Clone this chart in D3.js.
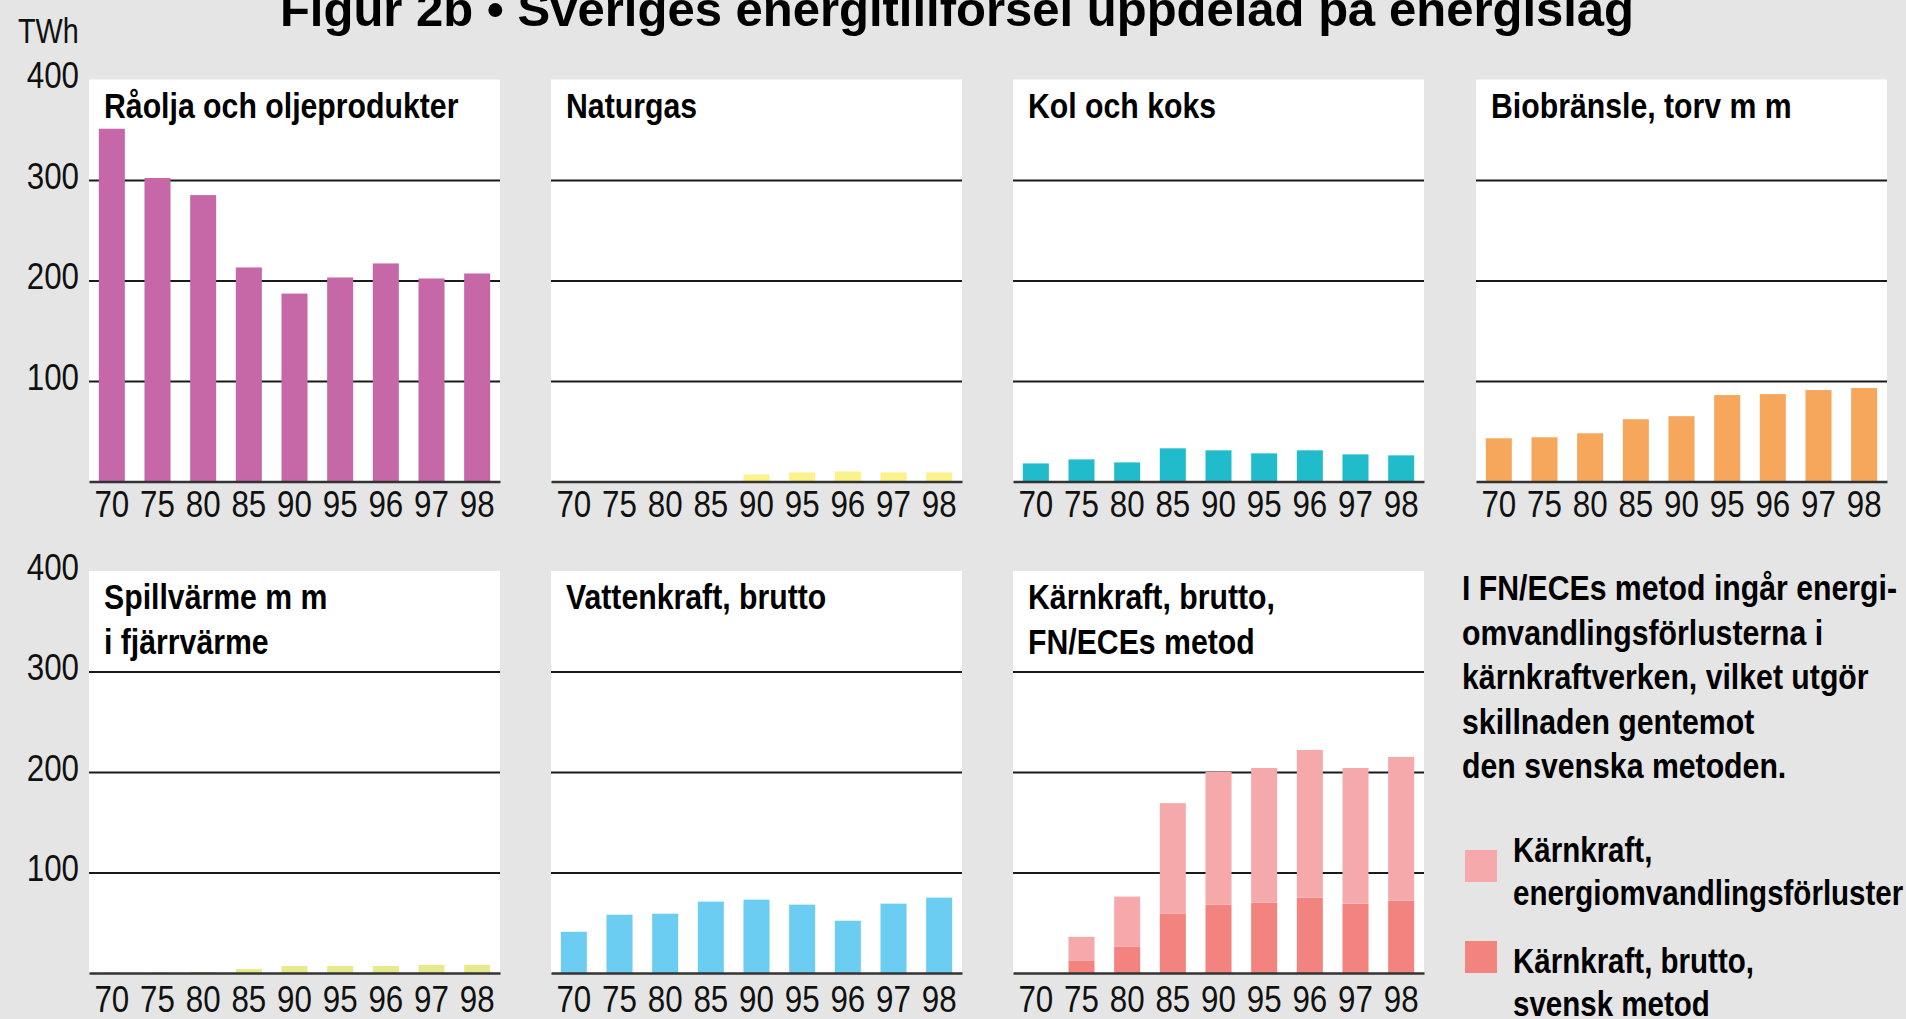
<!DOCTYPE html>
<html>
<head>
<meta charset="utf-8">
<script src="https://cdn.jsdelivr.net/npm/d3@7"></script>
<style>
  body { margin: 0; background: #e5e5e5; }
  svg { display: block; }
  text { font-family: "Liberation Sans", Arial, sans-serif; }
</style>
</head>
<body>
<div id="chart"></div>
<script>
// data, TWh per year
var years = ["70", "75", "80", "85", "90", "95", "96", "97", "98"];
var yTicks = [100, 200, 300, 400];
var gridTicks = [100, 200, 300];

var raolja     = [351, 302, 285, 213, 187, 203, 217, 202, 207];
var naturgas   = [0, 0, 0, 0.6, 7, 9, 10, 9, 9];
var kol        = [18, 22, 19, 33, 31, 28, 31, 27, 26];
var bio        = [43, 44, 48, 62, 65, 86, 87, 91, 93];
var spill      = [0.3, 0.3, 1, 4, 7, 7, 7, 8, 8];
var vatten     = [41, 58, 59, 71, 73, 68, 52, 69, 75];
var karnSvensk = [0, 12, 26, 59, 68, 70, 75, 69, 72];
var karnForlust = [0, 24, 50, 110, 132, 134, 147, 135, 143];

var legendNote = ["I FN/ECEs metod ingår energi-", "omvandlingsförlusterna i",
  "kärnkraftverken, vilket utgör", "skillnaden gentemot", "den svenska metoden."];

var W = 1906, H = 1019;
var colLeft = [89, 551, 1013, 1476], panelW = 411;
var rowBase = [481.5, 973];
var narrowReg = 0.87, narrowBold = 0.84;   // fake a condensed face

var svg = d3.select("#chart")
  .append("svg")
    .attr("width", W)
    .attr("height", H);

svg.append("rect").attr("width", W).attr("height", H).attr("fill", "#e5e5e5");

// text squeezed horizontally around its anchor point
function label(parent, x, y, str, size, bold, sx) {
  return parent.append("text")
    .attr("transform", "translate(" + x + "," + y + ") scale(" + sx + ",1)")
    .style("font-size", size + "px")
    .style("font-weight", bold ? "bold" : "normal")
    .attr("fill", "#000")
    .text(str);
}

// title (cut at the top like the original)
svg.append("text")
  .attr("x", 957)
  .attr("y", 26)
  .attr("text-anchor", "middle")
  .style("font-weight", "bold")
  .style("font-size", "49px")
  .text("Figur 2b • Sveriges energitillförsel uppdelad på energislag");

label(svg, 18, 43, "TWh", 36, false, 0.8).attr("fill", "#111");

var panels = [
  {title: ["Råolja och oljeprodukter"], col: 0, row: 0, series: [raolja], colors: ["#c668a8"]},
  {title: ["Naturgas"], col: 1, row: 0, series: [naturgas], colors: ["#fcf28a"]},
  {title: ["Kol och koks"], col: 2, row: 0, series: [kol], colors: ["#21bccb"]},
  {title: ["Biobränsle, torv m m"], col: 3, row: 0, series: [bio], colors: ["#f7a75c"]},
  {title: ["Spillvärme m m", "i fjärrvärme"], col: 0, row: 1, series: [spill], colors: ["#e6ea8a"]},
  {title: ["Vattenkraft, brutto"], col: 1, row: 1, series: [vatten], colors: ["#6ccdf3"]},
  {title: ["Kärnkraft, brutto,", "FN/ECEs metod"], col: 2, row: 1, series: [karnSvensk, karnForlust], colors: ["#f2837f", "#f6a9ab"]}
];

// y labels, one set per row
rowBase.forEach(function(base) {
  var y = d3.scaleLinear().domain([0, 400]).range([base, base - 402]);
  var ax = svg.append("g")
    .attr("transform", "translate(79,0)")
    .call(d3.axisLeft(y).tickValues(yTicks).tickSize(0).tickPadding(0));
  ax.attr("font-family", null).attr("font-size", null);
  ax.select(".domain").remove();
  ax.selectAll("text")
    .attr("dy", null)
    .attr("y", 8)
    .attr("transform", "scale(" + narrowReg + ",1)")
    .style("font-size", "36px")
    .attr("fill", "#111");
});

panels.forEach(function(p) {
  var left = colLeft[p.col];
  var base = rowBase[p.row];
  var y = d3.scaleLinear().domain([0, 400]).range([base, base - 402]);
  var x = d3.scaleBand()
    .domain(years)
    .range([left, left + panelW])
    .paddingInner(0.43)
    .paddingOuter(0.215);

  var g = svg.append("g");

  g.append("rect")
    .attr("x", left)
    .attr("y", y(400))
    .attr("width", panelW)
    .attr("height", y(0) - y(400))
    .attr("fill", "#ffffff");

  // gridlines
  var grid = g.append("g")
    .attr("transform", "translate(" + left + ",0)")
    .call(d3.axisLeft(y).tickValues(gridTicks).tickSize(-panelW).tickFormat(""));
  grid.select(".domain").remove();
  grid.selectAll("line").attr("stroke", "#1a1a1a").attr("stroke-width", 2);

  // stacked bars
  var rows = years.map(function(yr, i) {
    var o = {year: yr};
    p.series.forEach(function(s, k) { o["s" + k] = s[i]; });
    return o;
  });
  var stack = d3.stack().keys(p.series.map(function(s, k) { return "s" + k; }))(rows);

  stack.forEach(function(layer, k) {
    g.append("g")
      .attr("fill", p.colors[k])
      .selectAll("rect")
      .data(layer)
      .enter()
      .append("rect")
        .attr("x", function(d) { return x(d.data.year); })
        .attr("y", function(d) { return y(d[1]); })
        .attr("width", x.bandwidth())
        .attr("height", function(d) { return y(d[0]) - y(d[1]); });
  });

  // x axis / baseline
  var xa = g.append("g")
    .attr("transform", "translate(0," + base + ")")
    .call(d3.axisBottom(x).tickSize(0).tickPadding(p.row === 0 ? 10 : 13).tickSizeOuter(0));
  xa.attr("font-family", null).attr("font-size", null);
  xa.select(".domain").attr("stroke", "#333").attr("stroke-width", 2.5);
  xa.selectAll("text")
    .attr("transform", "scale(" + narrowReg + ",1)")
    .style("font-size", "36px")
    .attr("fill", "#111");

  // panel title
  p.title.forEach(function(line, i) {
    label(g, left + 15, y(400) + 38 + i * 45, line, 36, true, narrowBold);
  });
});

// note and legend
legendNote.forEach(function(line, i) {
  label(svg, 1462, 600 + i * 44.5, line, 36, true, narrowBold);
});

var legendItems = [
  {color: "#f6a9ab", lines: ["Kärnkraft,", "energiomvandlingsförluster"], y: 850, textY: 862},
  {color: "#f2837f", lines: ["Kärnkraft, brutto,", "svensk metod"], y: 941, textY: 973}
];
legendItems.forEach(function(item) {
  svg.append("rect")
    .attr("x", 1465)
    .attr("y", item.y)
    .attr("width", 32)
    .attr("height", 32)
    .attr("fill", item.color);
  item.lines.forEach(function(line, i) {
    label(svg, 1513, item.textY + i * 43, line, 36, true, 0.82);
  });
});
</script>
</body>
</html>
